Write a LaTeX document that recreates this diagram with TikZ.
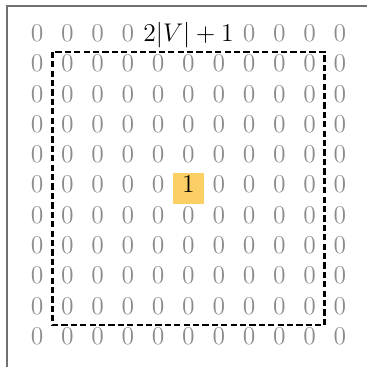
\documentclass[tikz,border=0pt]{standalone}
\usetikzlibrary{positioning}
\definecolor{hilite}{HTML}{FBCF63}
\definecolor{framegray}{HTML}{707070}

\begin{document}
\begin{tikzpicture}[entry/.style={text=black!45, font=\Large, inner sep=0pt,
    minimum size=0.6cm, text height=0.75em, text depth=0.25em},
  mark1/.style={entry, text=black, fill=hilite},
  border/.style={dash pattern=on 3.5pt off 1.8pt, line width=1.2pt}]
  \useasboundingbox (-0.733,0.733) rectangle (6.535,-6.535);
  \draw[framegray, line width=0.8pt] (-0.594,-7) -- (-0.594,0.614) -- (7,0.614);
  % grid of zeros
  \foreach \r in {0,...,10}
    \foreach \c in {0,...,10} {
      \pgfmathtruncatemacro\hole{(\r==0 && \c>3 && \c<7) || (\r==5 && \c==5)}
      \ifnum\hole=0
        \node[entry] (z-\r-\c) at (0.6*\c,-0.6*\r) {$0$};
      \fi
    }
  \node[entry, text=black] (size) at (3,0) {$2|V|+1$};
  \node[mark1] (one) at (3,-3) {$1$};
  \draw[border] (z-1-0.north east) rectangle (z-9-10.south west);
\end{tikzpicture}
\end{document}
